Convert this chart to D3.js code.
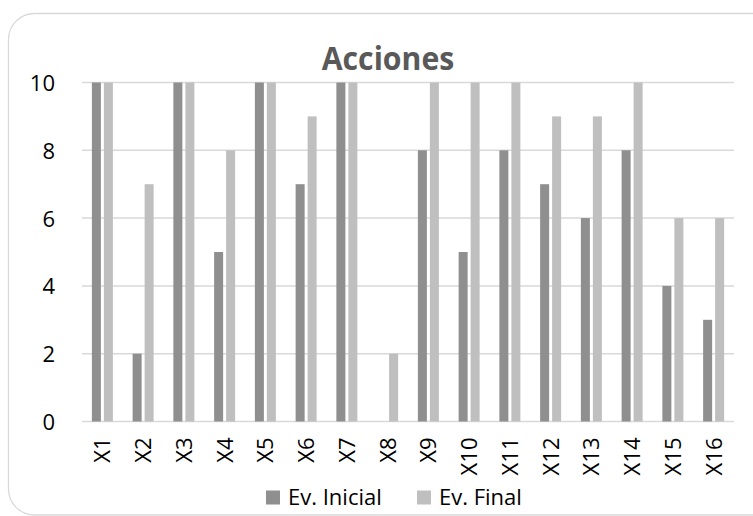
<!DOCTYPE html>
<html>
<head>
<meta charset="utf-8">
<script src="https://cdn.jsdelivr.net/npm/d3@7"></script>
<style>
  html, body { margin: 0; padding: 0; background: #ffffff; }
  svg { display: block; }
  text { font-family: "Open Sans", sans-serif; }
</style>
</head>
<body>
<svg id="chart" width="753" height="516"></svg>
<script>
const categories = ["X1","X2","X3","X4","X5","X6","X7","X8","X9","X10","X11","X12","X13","X14","X15","X16"];
const seriesNames = ["Ev. Inicial", "Ev. Final"];
const evInicial = [10, 2, 10, 5, 10, 7, 10, 0, 8, 5, 8, 7, 6, 8, 4, 3];
const evFinal   = [10, 7, 10, 8, 10, 9, 10, 2, 10, 10, 10, 9, 9, 10, 6, 6];
const yTicks = [0, 2, 4, 6, 8, 10];
const titleText = "Acciones";

const colors = ["#8f8f8f", "#bfbfbf"];
const seriesValues = [evInicial, evFinal];
const FONT = "'Open Sans', sans-serif";

const svg = d3.select("#chart");

// outer chart border (rounded)
svg.append("rect")
  .attr("x", 8.5).attr("y", 13.5)
  .attr("width", 770).attr("height", 501.5)
  .attr("rx", 26).attr("ry", 26)
  .attr("fill", "#ffffff")
  .attr("stroke", "#d9d9d9")
  .attr("stroke-width", 1.3);

const plot = { left: 82, right: 734, top: 82.5, bottom: 421.5 };

const x = d3.scaleBand().domain(categories).range([plot.left, plot.right]).paddingInner(0).paddingOuter(0);
const y = d3.scaleLinear().domain([0, 10]).range([plot.bottom, plot.top]);
const half = 10.5;
const xs = d3.scaleBand().domain(seriesNames)
  .range([x.bandwidth() / 2 - half, x.bandwidth() / 2 + half])
  .paddingInner(0.25).paddingOuter(0);

// gridlines
svg.append("g").selectAll("line").data(yTicks).enter().append("line")
  .attr("x1", plot.left).attr("x2", plot.right)
  .attr("y1", d => y(d)).attr("y2", d => y(d))
  .attr("stroke", "#d9d9d9").attr("stroke-width", 1.5);

// bars
const groups = svg.append("g").selectAll("g").data(categories).enter().append("g")
  .attr("transform", d => `translate(${x(d)},0)`);
groups.selectAll("rect")
  .data((c, i) => seriesNames.map((s, k) => ({ s, k, v: seriesValues[k][i] })))
  .enter().append("rect")
  .attr("x", d => xs(d.s))
  .attr("width", xs.bandwidth())
  .attr("y", d => y(d.v))
  .attr("height", d => y(0) - y(d.v))
  .attr("fill", d => colors[d.k]);

// y axis labels
const yAxis = d3.axisLeft(y).tickValues(yTicks).tickSize(0).tickPadding(0).tickFormat(d3.format("d"));
const yg = svg.append("g").attr("transform", `translate(55,0)`).call(yAxis);
yg.select(".domain").remove();
yg.selectAll("text").attr("font-size", 22).attr("fill", "#000").attr("font-family", FONT).attr("dy", "0.36em");

// x axis labels
const xAxis = d3.axisBottom(x).tickSize(0).tickPadding(0);
const xg = svg.append("g").attr("transform", `translate(0,${plot.bottom})`).call(xAxis);
xg.select(".domain").remove();
xg.selectAll("text")
  .attr("font-size", 22).attr("fill", "#000").attr("font-family", FONT)
  .attr("text-anchor", "end")
  .attr("transform", "rotate(-90)")
  .attr("x", -16).attr("y", 0).attr("dy", "0.36em");

// title
svg.append("text")
  .attr("transform", "translate(388,70) scale(0.93,1)")
  .attr("text-anchor", "middle")
  .attr("font-size", 32.5).attr("font-weight", "bold")
  .attr("fill", "#595959")
  .text(titleText);

// legend
const legendX = [266, 417];
const lg = svg.append("g");
seriesNames.forEach((s, k) => {
  lg.append("rect").attr("x", legendX[k]).attr("y", 490.5).attr("width", 14).attr("height", 14).attr("fill", colors[k]);
  lg.append("text").attr("x", legendX[k] + 22).attr("y", 505)
    .attr("font-size", 22).attr("fill", "#000").text(s);
});
</script>
</body>
</html>
